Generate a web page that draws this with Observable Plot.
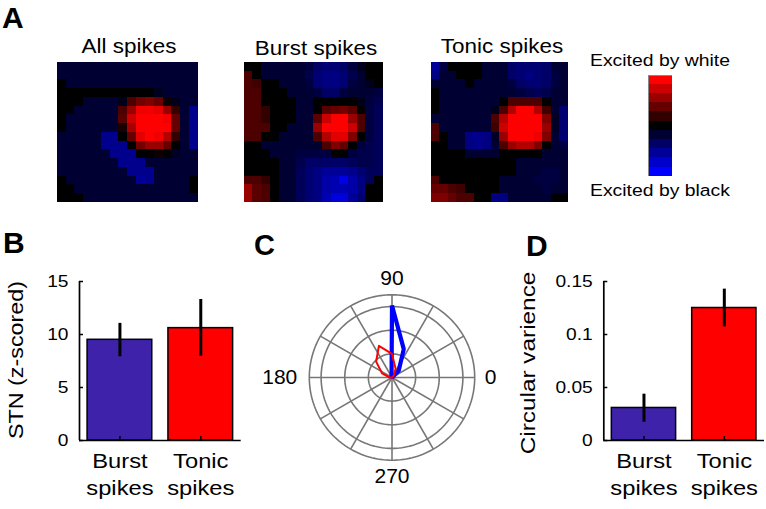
<!DOCTYPE html>
<html><head><meta charset="utf-8">
<script src="https://cdn.jsdelivr.net/npm/d3@7"></script>
<script src="https://cdn.jsdelivr.net/npm/@observablehq/plot@0.6"></script>
<style>
html,body{margin:0;padding:0;background:#fff;}
#fig{position:relative;width:766px;height:509px;overflow:hidden;font-family:"Liberation Sans",Arial,sans-serif;color:#000;}
</style></head><body><div id="fig"></div>
<script>
// ---------------- DATA ----------------
const heatTitles = ["All spikes", "Burst spikes", "Tonic spikes"];
const heatAll = [
 [-.2,-.2,-.2,-.2,-.2,-.2,-.2,-.2,-.2,-.2,-.2,-.2,-.2,-.2,-.2,-.2],
 [-.2,-.2,-.2,-.2,-.2,-.2,-.2,-.2,-.2,-.2,-.2,-.2,-.2,-.2,-.2,-.2],
 [0,-.2,-.2,-.2,-.2,-.2,-.2,-.2,-.2,-.2,-.2,-.2,-.2,-.2,-.2,-.2],
 [0,0,0,0,0,0,0,0,0,0,0,-.12,-.2,-.2,-.2,-.2],
 [0,0,0,-.2,-.2,-.2,-.2,-.1,.3,.45,.5,.4,.05,-.1,-.2,-.2],
 [0,0,-.2,-.2,-.2,-.2,-.2,.3,.6,.95,.95,.9,.6,.2,-.2,-.55],
 [0,-.2,-.2,-.2,-.2,-.2,-.2,.35,.8,1,1,1,.95,.4,-.2,-.55],
 [0,-.2,-.2,-.2,-.2,-.2,-.2,.1,.65,1,1,1,1,.4,-.2,-.55],
 [-.2,-.2,-.2,-.2,-.2,-.55,-.55,0,.4,.9,1,.95,.7,.2,-.2,-.55],
 [-.2,-.2,-.2,-.2,-.2,-.55,-.55,-.55,0,.45,.6,.6,.4,0,-.2,-.55],
 [-.2,-.2,-.2,-.2,-.2,-.2,-.55,-.55,-.55,0,0,.05,0,-.15,-.2,-.2],
 [-.2,-.2,-.2,-.2,-.2,-.2,-.2,-.55,-.55,-.55,-.2,-.2,-.2,-.2,-.2,-.2],
 [-.2,-.2,-.2,-.2,-.2,-.2,-.2,-.2,-.55,-.55,-.55,-.2,-.2,-.2,-.2,-.2],
 [0,-.2,-.2,-.2,-.2,-.2,-.2,-.2,-.2,-.6,-.55,-.2,-.2,-.2,-.2,0],
 [0,0,-.2,-.2,-.2,-.2,-.2,-.2,-.2,-.2,-.2,-.2,-.2,-.2,-.2,0],
 [0,0,0,-.2,-.2,-.2,-.2,-.2,-.2,-.2,-.2,-.2,-.2,-.2,-.2,-.2]
];
const heatBurst = [
 [0,0,-.2,-.2,-.2,-.2,-.2,-.25,-.4,-.45,-.45,-.4,-.25,-.1,0,0],
 [.3,0,-.2,-.2,-.2,-.2,-.2,-.3,-.45,-.5,-.5,-.45,-.3,-.2,0,0],
 [.3,.25,0,0,-.2,-.2,-.2,-.25,-.45,-.5,-.5,-.45,-.25,-.2,-.1,0],
 [.3,.3,0,0,0,-.2,-.2,-.2,-.25,-.4,-.4,-.25,-.2,-.2,-.2,-.25],
 [.3,.3,0,0,0,0,-.2,-.2,0,0,0,0,0,-.1,-.25,-.3],
 [.3,.3,.2,0,0,0,-.2,-.2,0,.35,.4,.45,.35,0,-.25,-.35],
 [.3,.3,.2,0,0,0,-.2,-.2,.35,.8,1,1,.6,.3,-.25,-.35],
 [.3,.3,.3,0,0,-.2,-.2,-.2,.6,1,1,1,.8,.3,-.25,-.35],
 [.3,.3,0,0,-.2,-.2,-.2,-.2,.3,.7,.9,.9,.5,0,-.25,-.35],
 [0,0,-.2,-.2,-.2,-.2,-.2,-.2,-.2,.3,.5,.4,0,-.25,-.3,-.35],
 [0,0,0,-.2,-.2,-.2,-.25,-.25,-.25,-.25,0,0,-.25,-.3,-.3,-.35],
 [0,0,0,0,-.2,-.2,-.3,-.4,-.4,-.4,-.4,-.4,-.35,-.3,-.3,-.35],
 [0,0,0,0,-.2,-.2,-.35,-.45,-.5,-.6,-.6,-.6,-.55,-.45,-.35,-.35],
 [.3,.3,.2,0,-.2,-.2,-.35,-.45,-.5,-.65,-.7,-.9,-.65,-.5,-.35,0],
 [.6,.35,.3,0,-.2,-.2,-.35,-.45,-.5,-.65,-.7,-.7,-.65,-.5,0,0],
 [.6,.35,.3,0,-.2,-.2,-.35,-.45,-.5,-.7,-.85,-.85,-.6,-.45,0,0]
];
const heatTonic = [
 [-.6,-.25,0,0,0,0,-.2,-.2,-.2,-.4,-.45,-.45,-.45,-.4,-.2,-.2],
 [-.5,-.2,-.2,0,0,0,-.2,-.2,-.2,-.4,-.45,-.5,-.45,-.4,-.25,-.2],
 [-.2,-.2,-.2,-.2,0,-.2,-.2,-.2,-.2,-.25,-.4,-.45,-.45,-.4,-.25,-.2],
 [0,-.2,-.2,-.2,-.2,-.2,-.2,-.2,-.2,-.2,-.25,-.3,-.35,-.3,-.2,-.2],
 [0,-.2,-.2,-.2,-.2,-.2,-.2,-.2,0,.3,.3,.3,.3,0,-.2,-.2],
 [0,-.2,-.2,-.2,-.2,-.2,-.2,-.1,.3,.7,1,1,.7,.25,-.2,-.45],
 [-.2,-.2,-.2,-.2,-.2,-.2,-.2,.3,.7,1,1,1,1,.5,-.15,-.45],
 [.3,-.2,-.2,-.2,-.2,-.2,-.2,.25,.8,1,1,1,1,.6,-.15,-.45],
 [.3,0,-.2,-.2,-.5,-.55,-.5,-.15,.6,1,1,1,.95,.5,-.2,-.45],
 [0,0,-.2,-.2,-.5,-.55,-.5,-.2,.3,.6,.7,.7,.5,0,-.2,-.25],
 [0,0,0,0,-.2,-.2,-.2,-.2,0,0,0,0,0,-.2,-.2,-.2],
 [0,0,0,0,0,0,0,0,0,0,-.2,-.2,-.2,-.2,-.2,-.2],
 [0,0,0,0,0,0,0,0,0,0,-.2,-.2,-.2,-.25,-.25,-.2],
 [.3,0,0,0,0,0,0,0,-.2,-.2,-.2,-.2,-.25,-.25,-.25,-.2],
 [.4,.4,.3,.25,0,0,0,0,-.2,-.2,-.2,-.2,-.2,-.25,-.2,-.2],
 [.5,.5,.4,.3,.3,0,0,-.5,-.5,-.2,-.2,-.2,-.2,-.2,0,0]
];
const colorbarLevels = [1, 0.8, 0.6, 0.4, 0.2, 0, -0.2, -0.4, -0.6, -0.8, -1];
const colorbarLabels = ["Excited by white", "Excited by black"];

const barCategories = ["Burst\nspikes", "Tonic\nspikes"];
const barColors = ["#3f22aa", "#ff0000"];
const stnMean = [9.5, 10.6];
const stnLow = [7.9, 7.95];
const stnHigh = [11.05, 13.3];
const stnTicks = [0, 5, 10, 15];
const stnLabel = "STN (z-scored)";

const cvMean = [0.0307, 0.125];
const cvLow = [0.0172, 0.1072];
const cvHigh = [0.0437, 0.1428];
const cvTicks = [0, 0.05, 0.1, 0.15];
const cvLabel = "Circular varience";

const polarAngles = [0, 22.5, 45, 67.5, 90, 112.5, 135, 157.5, 180, 202.5, 225, 247.5, 270, 292.5, 315, 337.5];
const polarBurst = [0, 0, 0.04, 0.13, 0.305, 0.005, 0, 0, 0, 0, 0, 0, 0, 0, 0, 0];
const polarTonic = [0, 0, 0.01, 0.04, 0.10, 0.145, 0.095, 0.045, 0.01, 0, 0, 0, 0, 0, 0, 0];
const polarRings = [0.1, 0.2, 0.3, 0.35];
const polarSpokes = [0, 30, 60, 90, 120, 150, 180, 210, 240, 270, 300, 330];
const polarAngleLabels = [0, 90, 180, 270];
const panelLetters = ["A", "B", "C", "D"];

// ---------------- HELPERS ----------------
const FONT = "'Liberation Sans', Arial, sans-serif";
const fig = document.getElementById("fig");
function place(svg, left, top) {
  svg.style.position = "absolute";
  svg.style.left = left + "px";
  svg.style.top = top + "px";
  fig.appendChild(svg);
  return svg;
}
function stretchText(svg, k) {
  for (const t of svg.querySelectorAll("text")) {
    const b = t.getBBox();
    const a = getComputedStyle(t).textAnchor;
    const cx = a === "end" ? b.x + b.width : a === "start" ? b.x : b.x + b.width / 2;
    const prev = t.getAttribute("transform") || "";
    t.setAttribute("transform", `${prev} translate(${cx} 0) scale(${k} 1) translate(${-cx} 0)`);
  }
}
const heatInterp = d3.piecewise(d3.interpolateRgb, ["#0000ff", "#000000", "#ff0000"]);
const heatColor = {type: "linear", domain: [-1, 1], interpolate: heatInterp, clamp: true};
const rad = (a) => a * Math.PI / 180;

// ---------------- PANEL A: heatmaps ----------------
function heat(matrix, left, top, w, h) {
  const data = matrix.flatMap((row, r) => row.map((v, c) => ({r, c, v})));
  const svg = Plot.plot({
    width: w, height: h, margin: 0,
    x: {type: "band", domain: d3.range(16), padding: 0, round: false, axis: null},
    y: {type: "band", domain: d3.range(16), padding: 0, round: false, axis: null},
    color: heatColor,
    style: {background: "transparent"},
    marks: [Plot.cell(data, {x: "c", y: "r", fill: "v", inset: -0.25, shapeRendering: "crispEdges"})]
  });
  place(svg, left, top);
}
heat(heatAll, 57, 62, 141, 140);
heat(heatBurst, 244, 62, 139, 140);
heat(heatTonic, 431, 62, 137, 140);

// colorbar
{
  const data = colorbarLevels.map((v, i) => ({i, v}));
  const svg = Plot.plot({
    width: 24, height: 101, margin: 0,
    x: {axis: null}, y: {type: "band", domain: d3.range(colorbarLevels.length), padding: 0, round: false, axis: null},
    color: heatColor,
    style: {background: "transparent"},
    marks: [
      Plot.cell(data, {y: "i", fill: "v", inset: -0.25, shapeRendering: "crispEdges"}),
      Plot.frame({stroke: "#888", strokeWidth: 1})
    ]
  });
  place(svg, 648, 75);
}

// ---------------- PANEL B & D: bars ----------------
function barPanel(mean, lo, hi, ticks, left, width, marginLeft, marginRight) {
  const data = barCategories.map((cat, i) => ({pos: i + 1, cat, mean: mean[i], lo: lo[i], hi: hi[i], color: barColors[i]}));
  const height = 290, marginTop = 61, marginBottom = 70;
  const frameW = width - marginLeft - marginRight, frameH = height - marginTop - marginBottom;
  const ymax = ticks[ticks.length - 1];
  const svg = Plot.plot({
    width, height, marginLeft, marginRight, marginTop, marginBottom,
    x: {domain: [0.5, 2.5], axis: null},
    y: {domain: [0, ymax], axis: null},
    color: {type: "identity"},
    style: {fontFamily: FONT, color: "#000", background: "transparent", overflow: "visible"},
    marks: [
      Plot.rect(data, {x1: d => d.pos - 0.4, x2: d => d.pos + 0.4, y1: 0, y2: "mean", fill: "color", stroke: "#000", strokeWidth: 1.5}),
      Plot.ruleX(data, {x: "pos", y1: "lo", y2: "hi", stroke: "#000", strokeWidth: 3}),
      Plot.tickY(ticks, {stroke: "#000", strokeWidth: 1.5, insetRight: frameW - 4}),
      Plot.tickX(data, {x: "pos", stroke: "#000", strokeWidth: 1.5, insetTop: frameH - 4}),
      Plot.ruleX([0.5], {y1: 0, y2: ymax, stroke: "#000", strokeWidth: 1.7}),
      Plot.ruleY([0], {stroke: "#000", strokeWidth: 1.7}),
      Plot.axisY(ticks, {tickSize: 0, tickPadding: 11, fontSize: 17, tickFormat: d => String(d)}),
      Plot.text(data, {x: "pos", y: 0, text: "cat", lineAnchor: "top", dy: 8, fontSize: 21, lineHeight: 1.286, fill: "#000"})
    ]
  });
  place(svg, left, 220);
  stretchText(svg, 1.13);
}
barPanel(stnMean, stnLow, stnHigh, stnTicks, 30, 220, 49, 9.3);
barPanel(cvMean, cvLow, cvHigh, cvTicks, 500, 266, 103.3, 2);

// ---------------- PANEL C: polar ----------------
{
  const rmax = polarRings[polarRings.length - 1];
  const ringPts = polarRings.flatMap(r => d3.range(0, 361, 2).map(a => ({ring: r, x: r * Math.cos(rad(a)), y: r * Math.sin(rad(a))})));
  const toXY = (vals) => {
    const pts = polarAngles.map((a, i) => ({x: vals[i] * Math.cos(rad(a)), y: vals[i] * Math.sin(rad(a))}));
    return [...pts, pts[0]];
  };
  const lab = (a) => ({a, x: rmax * Math.cos(rad(a)), y: rmax * Math.sin(rad(a))});
  const labs = polarAngleLabels.map(lab);
  const svg = Plot.plot({
    width: 255, height: 230, marginLeft: 53.8, marginRight: 35.8, marginTop: 32.3, marginBottom: 32.3,
    x: {domain: [-rmax, rmax], axis: null},
    y: {domain: [-rmax, rmax], axis: null},
    style: {fontFamily: FONT, color: "#000", background: "transparent", overflow: "visible"},
    marks: [
      Plot.line(ringPts, {x: "x", y: "y", z: "ring", stroke: "#777", strokeWidth: 1.6}),
      Plot.link(polarSpokes, {x1: 0, y1: 0, x2: a => rmax * Math.cos(rad(a)), y2: a => rmax * Math.sin(rad(a)), stroke: "#777", strokeWidth: 1.6}),
      Plot.line(toXY(polarBurst), {x: "x", y: "y", stroke: "#0000ff", strokeWidth: 4.2, strokeLinejoin: "miter", curve: "linear-closed"}),
      Plot.line(toXY(polarTonic), {x: "x", y: "y", stroke: "#ff0000", strokeWidth: 2, curve: "linear-closed"}),
      Plot.text(labs.filter(d => d.a === 90), {x: "x", y: "y", text: d => String(d.a), dy: -16.5, fontSize: 20, fill: "#000"}),
      Plot.text(labs.filter(d => d.a === 270), {x: "x", y: "y", text: d => String(d.a), dy: 16.5, fontSize: 20, fill: "#000"}),
      Plot.text(labs.filter(d => d.a === 0), {x: "x", y: "y", text: d => String(d.a), dx: 10, textAnchor: "start", fontSize: 20, fill: "#000"}),
      Plot.text(labs.filter(d => d.a === 180), {x: "x", y: "y", text: d => String(d.a), dx: -12, textAnchor: "end", fontSize: 20, fill: "#000"})
    ]
  });
  place(svg, 255, 262);
  stretchText(svg, 1.05);
}

// ---------------- free labels ----------------
{
  const ov = d3.create("svg").attr("width", 766).attr("height", 509)
    .style("position", "absolute").style("left", "0px").style("top", "0px")
    .style("pointer-events", "none").style("overflow", "visible")
    .attr("font-family", FONT).attr("fill", "#000");
  const add = (text, x, y, {anchor = "start", size = 20, weight = "normal", k = 1, rotate = 0} = {}) =>
    ov.append("text").attr("transform", `translate(${x},${y}) rotate(${rotate}) scale(${k},1)`)
      .attr("text-anchor", anchor).attr("font-size", size).attr("font-weight", weight).text(text);
  add(panelLetters[0], 2, 28, {size: 30, weight: "bold"});
  add(panelLetters[1], 3, 253, {size: 30, weight: "bold"});
  add(panelLetters[2], 254, 255, {size: 29, weight: "bold"});
  add(panelLetters[3], 526, 256, {size: 30, weight: "bold"});
  add(heatTitles[0], 129, 53, {anchor: "middle", size: 21, k: 1.07});
  add(heatTitles[1], 316, 55, {anchor: "middle", size: 21, k: 1.07});
  add(heatTitles[2], 502, 53, {anchor: "middle", size: 21, k: 1.07});
  add(colorbarLabels[0], 660, 66, {anchor: "middle", size: 17, k: 1.14});
  add(colorbarLabels[1], 660, 196, {anchor: "middle", size: 17, k: 1.14});
  add(stnLabel, 22.7, 360, {anchor: "middle", size: 21, k: 1.11, rotate: -90});
  add(cvLabel, 535, 363, {anchor: "middle", size: 21, k: 1.16, rotate: -90});
  fig.appendChild(ov.node());
}
</script>
</body></html>
